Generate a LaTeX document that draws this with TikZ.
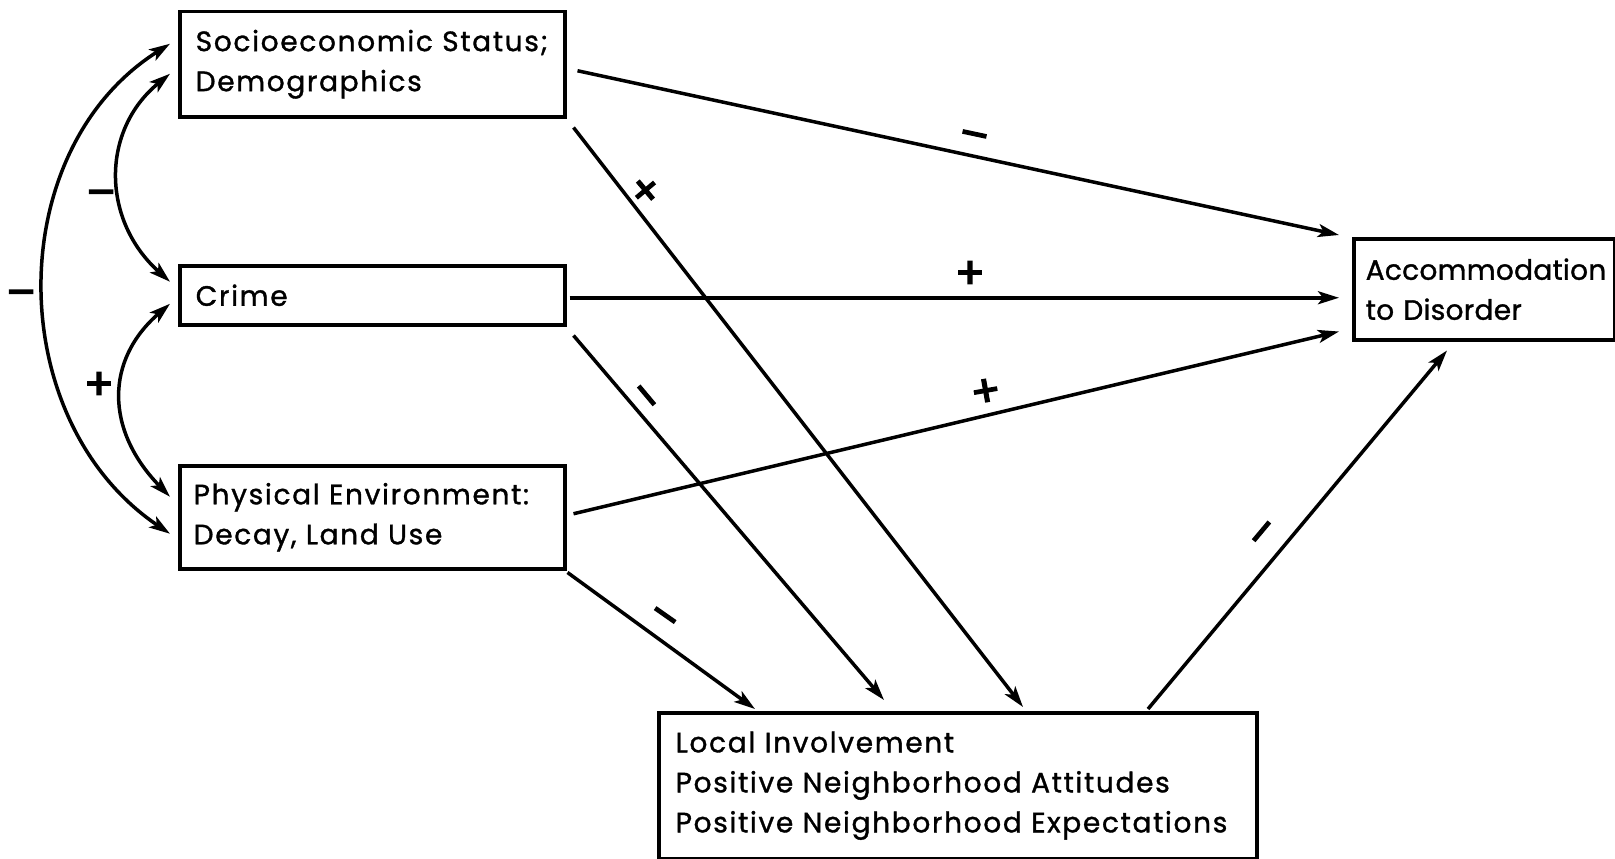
\documentclass[tikz,border=0pt]{standalone}
\usepackage{fontspec}
\setmainfont{Poppins}[LetterSpace=6, FakeBold=1.2]
\usetikzlibrary{arrows.meta,calc}
\begin{document}
\begin{tikzpicture}[x=1pt,y=-1pt,
  font=\fontsize{28}{40}\selectfont,
  box/.style={draw, line width=3.5pt, anchor=north west, align=left, inner ysep=0pt},
  conn/.style={line width=3.5pt, -{Stealth[length=21pt,width=13pt,inset=5pt]}},
  dconn/.style={line width=3.5pt, {Stealth[length=21pt,width=13pt,inset=5pt]}-{Stealth[length=21pt,width=13pt,inset=5pt]}},
  sign/.style={font=\fontsize{44}{44}\selectfont\addfontfeature{FakeBold=3, LetterSpace=0}, inner sep=0pt}]
\useasboundingbox (0,0) rectangle (1615,859);
\fill[white] (0,0) rectangle (1615,859);

\node[box, inner xsep=16pt, text width=353pt, minimum height=105pt] (ses) at (178,10) {Socioeconomic Status;\\Demographics};
\node[box, inner xsep=16pt, text width=353pt, minimum height=59pt] (crime) at (178,264) {Crime};
\node[box, inner xsep=14pt, text width=357pt, minimum height=103pt] (phys) at (178,464) {Physical Environment:\\Decay, Land Use};
\node[box, inner xsep=12pt, text width=237pt, minimum height=101pt, font=\fontsize{28}{40}\selectfont\addfontfeature{LetterSpace=1}] (acc) at (1352,237) {Accommodation\\to Disorder};
\node[box, inner xsep=17pt, text width=564pt, minimum height=146pt] (inv) at (657,711) {Local Involvement\\Positive Neighborhood Attitudes\\Positive Neighborhood Expectations};

% paths to accommodation
\draw[conn] ($(ses.east)+(11,6.5)$) -- ($(acc.north west)+(-13,-2)$);
\draw[conn] ($(crime.east)+(3,2.5)$) -- ($(acc.west)+(-13,8.5)$);
\draw[conn] ($(phys.east)+(7,-3.5)$) -- ($(acc.south west)+(-13,-10)$);
% paths to involvement
\draw[conn] ($(ses.south east)+(7,9)$) -- ($(inv.north west)+(366,-4)$);
\draw[conn] ($(crime.south east)+(7,9)$) -- ($(inv.north west)+(227,-11)$);
\draw[conn] ($(phys.south east)+(1,2)$) -- ($(inv.north west)+(98,-2)$);
\draw[conn] ($(inv.north west)+(491,-2)$) -- ($(acc.south west)+(95,9)$);

% correlations
\draw[dconn] ($(crime.west)+(-8,-13.5)$) .. controls (101,220) and (101,130) .. ($(ses.west)+(-8,9.5)$);
\draw[dconn] ($(crime.west)+(-8,8.5)$) .. controls (105,360) and (105,430) .. ($(phys.west)+(-8,-20.5)$);
\draw[dconn] ($(ses.west)+(-8,-20.5)$) .. controls (2,150) and (2,420) .. ($(phys.west)+(-8,16.5)$);

% signs
\node[sign, rotate=-12] (s1) at (973,141) {--};
\node[sign] (s2) at (970,275) {+};
\node[sign, rotate=10] (s3) at (986,393) {+};
\node[sign, rotate=40] (s4) at (647,192) {+};
\node[sign, rotate=-50] (s5) at (641,400) {--};
\node[sign, rotate=-35] (s6) at (661,621) {--};
\node[sign, rotate=50] (s7) at (1267,536) {--};
\node[sign] (s8) at (101,199) {--};
\node[sign] (s9) at (99,386) {+};
\node[sign] (s10) at (21,299) {--};
\end{tikzpicture}
\end{document}
